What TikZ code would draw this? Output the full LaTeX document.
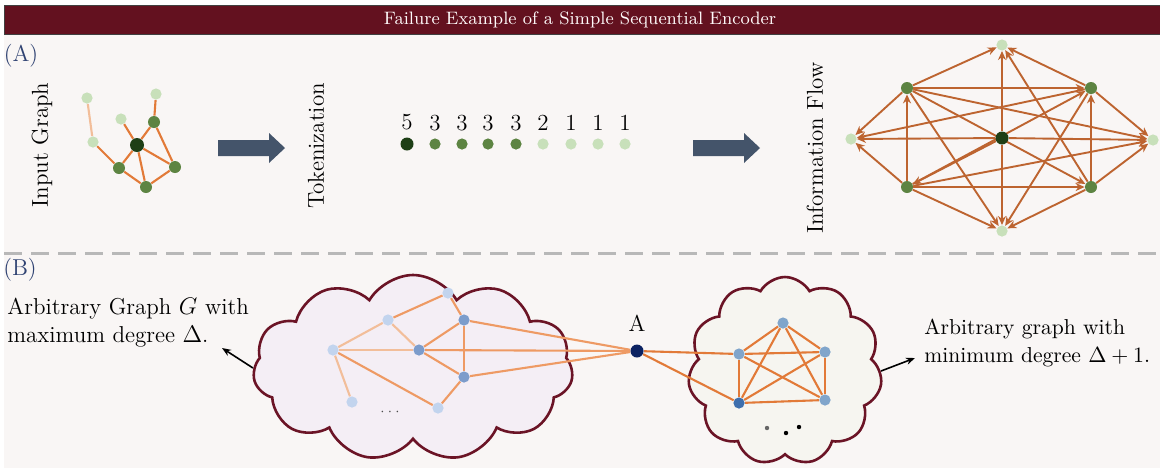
\documentclass[tikz,border=0pt]{standalone}
\usepackage{xcolor}
\usepackage{tikz}
\usetikzlibrary{arrows.meta, positioning, shapes.symbols}

\definecolor{pagebg}{HTML}{F9F6F5}
\definecolor{titlered}{HTML}{63111F}
\definecolor{tagblue}{HTML}{2F4272}
\definecolor{gLight}{HTML}{C8E0BA}
\definecolor{gMid}{HTML}{5D8442}
\definecolor{gDark}{HTML}{1E3F16}
\definecolor{edgeOr}{HTML}{E27A38}
\definecolor{softOr}{HTML}{F2BE9A}
\definecolor{midOr}{HTML}{EE9A64}
\definecolor{flowOr}{HTML}{BD6430}
\definecolor{slate}{HTML}{44546A}
\definecolor{bLight}{HTML}{C2D4EE}
\definecolor{bMid}{HTML}{7C9CCB}
\definecolor{bSteel}{HTML}{80A5CB}
\definecolor{bDark}{HTML}{3E6FAD}
\definecolor{navyA}{HTML}{0B2262}
\definecolor{cloudline}{HTML}{6B1426}
\definecolor{cloudL}{HTML}{F4EEF5}
\definecolor{cloudR}{HTML}{F6F5F0}

\pgfdeclarelayer{back}
\pgfdeclarelayer{wires}
\pgfsetlayers{back,wires,main}

\begin{document}
\begin{tikzpicture}[
    x=0.5pt, y=-0.5pt,
    font=\fontsize{11.5}{14}\selectfont,
    vtx/.style={circle, inner sep=0pt, minimum size=5.6pt},
    darkv/.style={vtx, fill=gDark, minimum size=7pt},
    midv/.style={vtx, fill=gMid, minimum size=6pt},
    lightv/.style={vtx, fill=gLight},
    num/.style={inner sep=1pt, above=2.5pt of #1},
    link/.style={draw=edgeOr, line width=1.05pt},
    flow/.style={-{Stealth[length=4.5pt, width=4pt]}, draw=flowOr, line width=0.95pt},
    cloudbox/.style={cloud, cloud ignores aspect, draw=cloudline, line width=1.3pt},
    pointer/.style={-{Stealth[length=4.5pt, width=3.5pt]}, line width=0.8pt},
    note/.style={align=left, inner sep=0pt, anchor=west}
]
    % page and title bar
    \useasboundingbox (0,0) rectangle (1160,468);
    \begin{pgfonlayer}{back}
        \fill[pagebg] (4,5) rectangle (1160,468);
    \end{pgfonlayer}
    \draw[draw=black!75, fill=titlered, line width=0.5pt] (4,5) rectangle (1160,34);
    \node[text=white!94!pink, font=\fontsize{9}{10}\selectfont] (title) at (580,19.5) {Failure Example of a Simple Sequential Encoder};
    \draw[black!28, line width=1.5pt, dash pattern=on 9pt off 4.5pt] (4,253) -- (1160,253);

    % (A) input graph
    \node[text=tagblue] (tagA) at (21,56) {(A)};
    \node[rotate=90] (lblInput) at (42,145) {Input Graph};
    \node[lightv] (i1) at (87,98) {};
    \node[lightv] (i2) at (156,94) {};
    \node[lightv] (i3) at (121,119) {};
    \node[midv] (i4) at (154,122) {};
    \node[lightv] (i5) at (93,142) {};
    \node[darkv] (i6) at (137,145) {};
    \node[midv] (i7) at (119,168) {};
    \node[midv] (i8) at (175,167) {};
    \node[midv] (i9) at (146,187) {};
    \begin{pgfonlayer}{wires}
        \draw[link, draw=softOr] (i1) -- (i5);
        \draw[link] (i2) -- (i4);
        \draw[link] (i3) -- (i6);
        \draw[link] (i4) -- (i6);
        \draw[link] (i4) -- (i8);
        \draw[link] (i5) -- (i7);
        \draw[link] (i7) -- (i6);
        \draw[link] (i6) -- (i9);
        \draw[link] (i6) -- (i8);
        \draw[link] (i7) -- (i9);
        \draw[link] (i9) -- (i8);
    \end{pgfonlayer}

    \fill[slate] (218,140) -- (269,140) -- (269,133) -- (285,148) -- (269,163) -- (269,156) -- (218,156) -- cycle;

    % tokenization
    \node[rotate=90] (lblToken) at (316,146) {Tokenization};
    \node[darkv, minimum size=6.5pt] (t1) at (407,144) {};
    \node[midv, minimum size=5.6pt] (t2) at (435,144) {};
    \node[midv, minimum size=5.6pt] (t3) at (462,144) {};
    \node[midv, minimum size=5.6pt] (t4) at (488,144) {};
    \node[midv, minimum size=5.6pt] (t5) at (516,144) {};
    \node[lightv] (t6) at (543,144) {};
    \node[lightv] (t7) at (571,144) {};
    \node[lightv] (t8) at (598,144) {};
    \node[lightv] (t9) at (625,144) {};
    \node[num=t1] {5};
    \node[num=t2] {3};
    \node[num=t3] {3};
    \node[num=t4] {3};
    \node[num=t5] {3};
    \node[num=t6] {2};
    \node[num=t7] {1};
    \node[num=t8] {1};
    \node[num=t9] {1};

    \fill[slate] (693,140) -- (744,140) -- (744,133) -- (760,148) -- (744,163) -- (744,156) -- (693,156) -- cycle;

    % information flow
    \node[rotate=90] (lblFlow) at (815,148) {Information Flow};
    \node[lightv] (ftop) at (1002,45) {};
    \node[midv] (ftl) at (907,88) {};
    \node[midv] (ftr) at (1091,88) {};
    \node[lightv] (fl) at (851,139) {};
    \node[darkv, minimum size=6.5pt] (fc) at (1002,138) {};
    \node[lightv] (fr) at (1153,140) {};
    \node[midv] (fbl) at (907,187) {};
    \node[midv] (fbr) at (1091,187) {};
    \node[lightv] (fbot) at (1002,231) {};
    \begin{pgfonlayer}{wires}
        \draw[flow] (fc) -- (ftop);
        \draw[flow] (fc) -- (fbot);
        \draw[flow] (fc) -- (fl);
        \draw[flow] (fc) -- (fr);
        \draw[flow] (fc) -- (fbl);
        \draw[flow] (ftl) -- (fbr);
        \draw[flow] (fbl) -- (ftr);
        \draw[flow] (fbl) -- (ftl);
        \draw[flow] (fbr) -- (ftr);
        \draw[flow] (ftl) -- (ftr);
        \draw[flow] (fbl) -- (fbr);
        \draw[flow] (ftl) -- (ftop);
        \draw[flow] (ftr) -- (ftop);
        \draw[flow] (fbr) -- (ftop);
        \draw[flow] (ftl) -- (fl);
        \draw[flow] (fbl) -- (fl);
        \draw[flow] (ftr) -- (fl);
        \draw[flow] (ftl) -- (fr);
        \draw[flow] (ftr) -- (fr);
        \draw[flow] (fbl) -- (fr);
        \draw[flow] (fbr) -- (fr);
        \draw[flow] (ftl) -- (fbot);
        \draw[flow] (ftr) -- (fbot);
        \draw[flow] (fbl) -- (fbot);
        \draw[flow] (fbr) -- (fbot);
    \end{pgfonlayer}

    % (B) two clouds joined through A
    \node[text=tagblue] (tagB) at (20,270) {(B)};
    \begin{pgfonlayer}{back}
        \node[cloudbox, fill=cloudL, cloud puffs=11, cloud puff arc=120, minimum width=160pt, minimum height=93pt] (lcloud) at (413,368) {};
        \node[cloudbox, fill=cloudR, cloud puffs=11, cloud puff arc=120, minimum width=97pt, minimum height=94pt] (rcloud) at (785,371) {};
    \end{pgfonlayer}
    \node[note] (ltext) at (7,323) {Arbitrary Graph $G$ with\\maximum degree $\Delta$.};
    \node[note, font=\fontsize{10.8}{14}\selectfont] (rtext) at (924,343) {Arbitrary graph with\\minimum degree $\Delta+1$.};
    \coordinate (lpoint) at (222,348);
    \coordinate (rpoint) at (915,358);
    \draw[pointer] (lcloud.west) -- (lpoint);
    \draw[pointer] (rcloud.east) -- (rpoint);

    \node[vtx, fill=bLight] (ga) at (448,293) {};
    \node[vtx, fill=bLight] (gb) at (388,320) {};
    \node[vtx, fill=bMid] (gc) at (464,320) {};
    \node[vtx, fill=bLight] (gd) at (333,350) {};
    \node[vtx, fill=bMid] (ge) at (419,350) {};
    \node[vtx, fill=bMid] (gf) at (464,377) {};
    \node[vtx, fill=bLight] (gg) at (352,402) {};
    \node[vtx, fill=bLight] (gh) at (438,408) {};
    \node[text=black!70, font=\scriptsize] (gdots) at (390,412) {$\cdots$};

    \node[vtx, fill=navyA, minimum size=6.5pt] (A) at (637,351) {};
    \node[inner sep=0pt, above=6pt of A] (lblA) {A};

    \node[vtx, fill=bSteel] (hp) at (783,323) {};
    \node[vtx, fill=bSteel] (hq) at (739,354) {};
    \node[vtx, fill=bSteel] (hr) at (825,352) {};
    \node[vtx, fill=bDark] (hs) at (739,403) {};
    \node[vtx, fill=bSteel] (ht) at (825,400) {};
    \fill[black!60] (767,428) circle (1.1pt);
    \fill[black] (786,433) circle (1.1pt);
    \fill[black] (799,427) circle (1.1pt);

    \begin{pgfonlayer}{wires}
        \draw[link, draw=midOr] (ga) -- (gb);
        \draw[link, draw=midOr] (ga) -- (gc);
        \draw[link, draw=softOr] (gb) -- (gd);
        \draw[link, draw=softOr] (gb) -- (ge);
        \draw[link, draw=softOr] (gd) -- (ge);
        \draw[link, draw=softOr] (gd) -- (gg);
        \draw[link, draw=midOr] (gd) -- (gh);
        \draw[link, draw=midOr] (gc) -- (ge);
        \draw[link, draw=midOr] (gc) -- (gf);
        \draw[link, draw=midOr] (ge) -- (gf);
        \draw[link, draw=midOr] (gf) -- (gh);
        \draw[link, draw=midOr] (A) -- (gc);
        \draw[link, draw=midOr] (A) -- (ge);
        \draw[link, draw=midOr] (A) -- (gf);
        \draw[link] (A) -- (hq);
        \draw[link] (A) -- (hs);
        \draw[link] (hp) -- (hq);
        \draw[link] (hp) -- (hr);
        \draw[link] (hp) -- (hs);
        \draw[link] (hp) -- (ht);
        \draw[link] (hq) -- (hr);
        \draw[link] (hq) -- (hs);
        \draw[link] (hq) -- (ht);
        \draw[link] (hr) -- (hs);
        \draw[link] (hr) -- (ht);
        \draw[link] (hs) -- (ht);
    \end{pgfonlayer}
\end{tikzpicture}
\end{document}
